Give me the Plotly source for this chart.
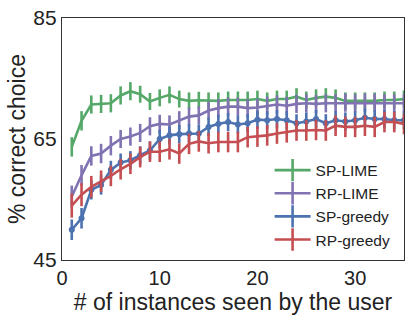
import plotly.graph_objects as go

x = list(range(1, 36))

sp_lime = [63.7, 68.0, 70.7, 70.8, 70.9, 72.2, 72.9, 72.4, 71.2, 71.8, 72.3, 71.6,
           71.3, 71.4, 71.3, 71.3, 71.45, 71.45, 71.45, 71.6, 71.3, 71.6, 71.6, 72.0,
           71.45, 71.8, 72.0, 71.8, 71.3, 71.3, 71.3, 71.3, 71.45, 71.45, 71.6]
sp_lime_err = [1.6, 1.6, 1.5, 1.5, 1.5, 1.5, 1.5, 1.4, 1.4, 1.4, 1.4, 1.4,
               1.4, 1.4, 1.4, 1.4, 1.4, 1.4, 1.4, 1.4, 1.4, 1.4, 1.4, 1.4,
               1.4, 1.4, 1.4, 1.4, 1.4, 1.4, 1.4, 1.4, 1.4, 1.4, 1.4]

rp_lime = [55.5, 59.0, 62.2, 62.6, 63.9, 65.0, 65.4, 66.0, 67.1, 67.5, 67.4, 68.1,
           68.7, 68.9, 69.7, 70.1, 70.35, 70.35, 70.1, 70.2, 70.5, 70.7, 70.5, 70.8,
           70.9, 70.8, 70.9, 70.9, 71.0, 70.9, 71.0, 71.0, 70.9, 70.9, 70.9]
rp_lime_err = [1.8, 1.7, 1.6, 1.6, 1.6, 1.5, 1.5, 1.5, 1.5, 1.5, 1.5, 1.5,
               1.5, 1.5, 1.5, 1.5, 1.5, 1.5, 1.5, 1.5, 1.5, 1.5, 1.5, 1.5,
               1.5, 1.5, 1.5, 1.5, 1.5, 1.5, 1.5, 1.5, 1.5, 1.5, 1.5]

sp_greedy = [50.0, 51.9, 56.6, 57.4, 59.9, 61.1, 61.5, 62.3, 63.1, 65.0, 65.6, 65.8,
             65.9, 65.9, 67.0, 67.5, 67.8, 67.4, 67.6, 68.2, 68.1, 68.3, 68.1, 67.6,
             67.9, 68.3, 67.6, 68.1, 67.9, 68.1, 68.5, 68.3, 68.3, 68.1, 68.1]
sp_greedy_err = [1.7, 1.7, 1.6, 1.6, 1.5, 1.5, 1.5, 1.5, 1.5, 1.5, 1.5, 1.5,
                 1.5, 1.5, 1.5, 1.5, 1.5, 1.5, 1.5, 1.5, 1.5, 1.5, 1.5, 1.5,
                 1.5, 1.5, 1.5, 1.5, 1.5, 1.5, 1.5, 1.5, 1.5, 1.5, 1.5]

rp_greedy = [54.0, 55.8, 57.1, 58.0, 58.9, 60.0, 60.9, 62.0, 62.9, 62.9, 63.3, 62.6,
             64.2, 64.6, 64.3, 64.5, 64.5, 64.5, 65.3, 65.4, 65.6, 65.9, 66.1, 66.4,
             66.4, 66.5, 66.4, 67.2, 67.0, 67.0, 67.2, 67.0, 67.8, 67.8, 67.5]
rp_greedy_err = [2.0, 1.9, 1.8, 1.8, 1.7, 1.7, 1.7, 1.7, 1.7, 1.7, 1.7, 1.7,
                 1.7, 1.7, 1.7, 1.7, 1.7, 1.7, 1.7, 1.7, 1.7, 1.7, 1.7, 1.7,
                 1.7, 1.7, 1.7, 1.7, 1.7, 1.7, 1.7, 1.7, 1.7, 1.7, 1.7]

series = [
    ("SP-LIME", sp_lime, sp_lime_err, "#55A868", False),
    ("RP-LIME", rp_lime, rp_lime_err, "#8172B2", False),
    ("SP-greedy", sp_greedy, sp_greedy_err, "#4C72B0", True),
    ("RP-greedy", rp_greedy, rp_greedy_err, "#C44E52", False),
]

x_ticks = [0, 10, 20, 30]
y_ticks = [45, 65, 85]

fig = go.Figure()
for name, y, err, color, dots in series:
    fig.add_trace(go.Scatter(
        x=x, y=y, name=name, showlegend=False,
        mode="lines+markers" if dots else "lines",
        line=dict(color=color, width=2.6),
        marker=dict(size=6, color=color),
        error_y=dict(type="data", array=err, visible=True, color=color,
                     thickness=2.6, width=0),
    ))
for name, y, err, color, dots in series:
    fig.add_trace(go.Scatter(
        x=[None], y=[None], name=name, mode="lines+markers",
        line=dict(color=color, width=2.6),
        marker=dict(symbol="line-ns-open", size=16, color=color,
                    line=dict(color=color, width=2.6)),
    ))

font_family = "Liberation Sans, Arial, sans-serif"
fig.update_layout(
    width=411, height=318,
    margin=dict(l=62, r=6, t=15, b=58),
    paper_bgcolor="white", plot_bgcolor="white",
    font=dict(family=font_family, color="#222222"),
    showlegend=True,
    legend=dict(x=0.607, xanchor="left", y=0.44, yanchor="top", itemwidth=36,
                font=dict(size=15.5, family=font_family, color="#222222"),
                bgcolor="rgba(0,0,0,0)", tracegroupgap=0),
    xaxis=dict(range=[0, 35], tickvals=x_ticks, ticktext=[str(v) for v in x_ticks],
               showgrid=False, zeroline=False, showline=True, mirror=True,
               linecolor="#333333", linewidth=1.3, ticks="",
               tickfont=dict(size=20),
               title=dict(text="# of instances seen by the user", font=dict(size=23),
                          standoff=0)),
    yaxis=dict(range=[45, 85], tickvals=y_ticks, ticktext=[str(v) for v in y_ticks],
               showgrid=False, zeroline=False, showline=True, mirror=True,
               linecolor="#333333", linewidth=1.3, ticks="",
               tickfont=dict(size=21),
               title=dict(text="% correct choice", font=dict(size=23), standoff=1)),
)

fig.write_html("out.html", config={"displayModeBar": False},
               post_script="document.body.style.margin='0px';document.body.style.overflow='hidden';")
